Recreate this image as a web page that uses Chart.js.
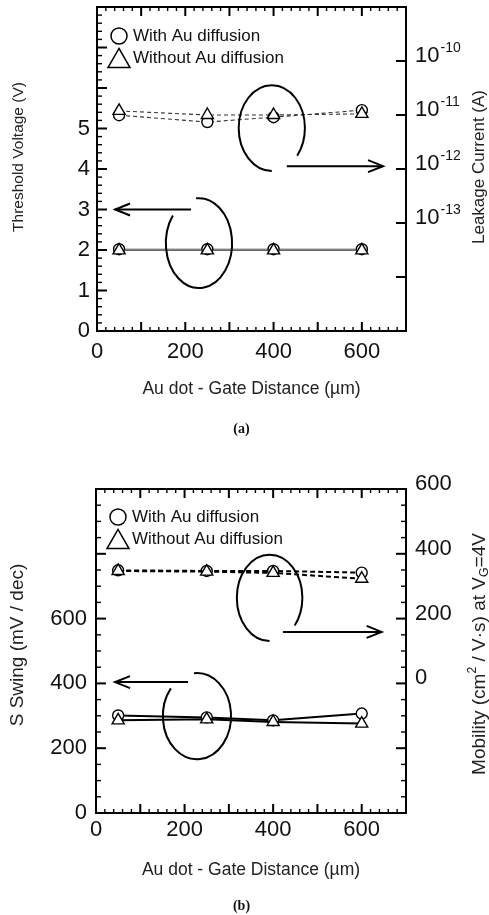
<!DOCTYPE html>
<html><head><meta charset="utf-8">
<script src="https://cdn.jsdelivr.net/npm/chart.js@4/dist/chart.umd.min.js"></script>
<style>
html,body{margin:0;padding:0;background:#fff;width:489px;height:915px;overflow:hidden}
canvas{position:absolute;left:0}
#ca{top:0}
#cb{top:440px}
.cap{position:absolute;font:bold 14px "Liberation Serif","DejaVu Serif",serif;color:#111;width:489px;text-align:center;left:-3px}
</style></head><body>
<canvas id="ca" width="489" height="440"></canvas>
<canvas id="cb" width="489" height="475"></canvas>
<div class="cap" style="top:421px">(a)</div>
<div class="cap" style="top:898px">(b)</div>
<script>
// ---------- data ----------
const distances = [50, 250, 400, 600];
const vthWithAu = [2.02, 2.02, 2.02, 2.02];
const vthWithoutAu = [1.99, 1.99, 1.99, 1.99];
const leakWithAu = [9.9e-12, 7.4e-12, 9.1e-12, 1.23e-11];
const leakWithoutAu = [1.19e-11, 1.0e-11, 1.0e-11, 1.05e-11];
const swingWithAu = [301, 295, 286, 307];
const swingWithoutAu = [286, 289, 281, 276];
const mobilityWithAu = [349, 347, 347, 342];
const mobilityWithoutAu = [347, 345, 341, 323];

const xTickLabels = [0, 200, 400, 600];
const vthTickLabels = [0, 1, 2, 3, 4, 5];
const leakTickExponents = [-10, -11, -12, -13];
const swingTickLabels = [0, 200, 400, 600];
const mobilityTickLabels = [0, 200, 400, 600];
const legendLabels = ['With Au diffusion', 'Without Au diffusion'];

const FONT = '"Liberation Sans", Arial, Helvetica, sans-serif';
Chart.defaults.font.family = FONT;
Chart.defaults.color = '#111';

function pts(ys) { return distances.map((x, i) => ({x: x, y: ys[i]})); }

function ds(data, axis, style, dash, color, width) {
  return {
    data: pts(data), yAxisID: axis, borderColor: color, borderWidth: width,
    borderDash: dash, tension: 0, fill: false,
    order: style === 'circle' ? 2 : 1,
    pointStyle: style, pointRadius: style === 'circle' ? 5.5 : 7,
    pointBackgroundColor: '#fff', pointBorderColor: '#000', pointBorderWidth: 1.4,
    pointHoverRadius: style === 'circle' ? 5.5 : 7
  };
}

function fixSize(prop, val) {
  return s => { s[prop] = val; s.paddingTop = 0; s.paddingBottom = 0; s.paddingLeft = 0; s.paddingRight = 0; };
}

function triPath(ctx, cx, cy, w) {
  const h = w * Math.sqrt(3) / 2;
  ctx.beginPath();
  ctx.moveTo(cx, cy - h / 2);
  ctx.lineTo(cx + w / 2, cy + h / 2);
  ctx.lineTo(cx - w / 2, cy + h / 2);
  ctx.closePath();
}

function vText(ctx, x, y, parts, size) {
  ctx.save();
  ctx.translate(x, y);
  ctx.rotate(-Math.PI / 2);
  ctx.fillStyle = '#222';
  ctx.textBaseline = 'middle';
  ctx.textAlign = 'left';
  let total = 0;
  const meas = parts.map(p => {
    const s = size * (p.scale || 1);
    ctx.font = s + 'px ' + FONT;
    const w = ctx.measureText(p.t).width;
    total += w;
    return {w, s};
  });
  let cx = -total / 2;
  parts.forEach((p, i) => {
    ctx.font = meas[i].s + 'px ' + FONT;
    ctx.fillText(p.t, cx, (p.dy || 0) * size);
    cx += meas[i].w;
  });
  ctx.restore();
}

function makeDecor(o) {
  return {
    id: 'decor',
    afterDatasetsDraw(chart) {
      const ctx = chart.ctx, ca = chart.chartArea;
      const xs = chart.scales.x, ys = chart.scales.y, y2 = chart.scales.y2;
      ctx.save();
      ctx.strokeStyle = '#000';
      ctx.fillStyle = '#000';
      ctx.setLineDash([]);
      const line = (a, b, c, d, w) => { ctx.lineWidth = w; ctx.beginPath(); ctx.moveTo(a, b); ctx.lineTo(c, d); ctx.stroke(); };
      // x ticks (bottom + top, inward)
      for (let i = 0; i * o.xMinor <= o.xMax + 1e-9; i++) {
        const v = i * o.xMinor;
        const major = Math.abs(v / o.xMajor - Math.round(v / o.xMajor)) < 1e-6;
        const p = xs.getPixelForValue(v);
        const L = major ? 9 : 4;
        line(p, ca.bottom, p, ca.bottom - L, major ? 2 : 1.4);
        line(p, ca.top, p, ca.top + L, major ? 2 : 1.4);
      }
      // left ticks
      for (let i = 0; i * o.yMinor <= o.yMax + 1e-9; i++) {
        const v = i * o.yMinor;
        const major = Math.abs(v / o.yMajor - Math.round(v / o.yMajor)) < 1e-6;
        const p = ys.getPixelForValue(v);
        line(ca.left, p, ca.left + (major ? 10 : 5), p, major ? 2 : 1.4);
      }
      // right ticks
      if (o.rightLog) {
        for (let e = o.logMin; e <= o.logMax; e++) {
          const p = y2.getPixelForValue(Math.pow(10, e));
          line(ca.right, p, ca.right - 10, p, 2);
        }
      } else {
        for (let i = 0; o.rMin + i * o.rMinor <= o.rMax + 1e-9; i++) {
          const v = o.rMin + i * o.rMinor;
          const major = Math.abs(v / o.rMajor - Math.round(v / o.rMajor)) < 1e-6;
          const p = y2.getPixelForValue(v);
          line(ca.right, p, ca.right - (major ? 10 : 5), p, major ? 2 : 1.4);
        }
      }
      // frame
      ctx.lineWidth = 2;
      ctx.strokeRect(ca.left, ca.top, ca.right - ca.left, ca.bottom - ca.top);
      // loops (data coordinates on x / left y)
      ctx.lineWidth = 2;
      o.loops.forEach(L => {
        const cx = xs.getPixelForValue(L.cx), cy = ys.getPixelForValue(L.cy);
        const rx = xs.getPixelForValue(L.cx + L.rx) - cx;
        const ry = cy - ys.getPixelForValue(L.cy + L.ry);
        ctx.beginPath();
        ctx.ellipse(cx, cy, rx, ry, 0, L.a0 * Math.PI / 180, L.a1 * Math.PI / 180, L.ccw);
        ctx.stroke();
      });
      // arrows
      o.arrows.forEach(A => {
        const x0 = xs.getPixelForValue(A.x0), x1 = xs.getPixelForValue(A.x1), y = ys.getPixelForValue(A.y);
        const d = Math.sign(x1 - x0);
        line(x0, y, x1, y, 2);
        ctx.lineWidth = 2;
        ctx.beginPath();
        ctx.moveTo(x1 - d * 15, y - 6);
        ctx.lineTo(x1, y);
        ctx.lineTo(x1 - d * 15, y + 6);
        ctx.stroke();
      });
      // legend
      const lx = ca.left + 22, ly1 = ca.top + o.legY1, ly2 = ca.top + o.legY2;
      ctx.lineWidth = 1.5;
      ctx.fillStyle = '#fff';
      ctx.beginPath(); ctx.arc(lx, ly1, 8, 0, Math.PI * 2); ctx.fill(); ctx.stroke();
      triPath(ctx, lx, ly2, 22); ctx.fill(); ctx.stroke();
      ctx.fillStyle = '#111';
      ctx.font = '17px ' + FONT;
      ctx.textBaseline = 'middle';
      ctx.textAlign = 'left';
      ctx.fillText(legendLabels[0], ca.left + 36, ly1);
      ctx.fillText(legendLabels[1], ca.left + 36, ly2);
      // right log labels with superscripts
      if (o.rightLog) {
        leakTickExponents.forEach(e => {
          const p = y2.getPixelForValue(Math.pow(10, e)) - 5;
          ctx.fillStyle = '#111';
          ctx.font = '22px ' + FONT;
          ctx.fillText('10', ca.right + 9, p);
          const w = ctx.measureText('10').width;
          ctx.font = '14px ' + FONT;
          ctx.fillText(String(e), ca.right + 10 + w, p - 8);
        });
      }
      // vertical titles
      o.titles.forEach(t => vText(ctx, t.x, t.y, t.parts, t.size));
      ctx.restore();
    }
  };
}

const noGrid = {display: false, drawTicks: false};
const tickFont = {size: 22, family: FONT};

// ---------- chart (a) ----------
new Chart(document.getElementById('ca'), {
  type: 'line',
  data: {datasets: [
    ds(vthWithAu, 'y', 'circle', [], '#555', 1),
    ds(vthWithoutAu, 'y', 'triangle', [], '#555', 1),
    ds(leakWithAu, 'y2', 'circle', [4, 3], '#333', 1.1),
    ds(leakWithoutAu, 'y2', 'triangle', [4, 3], '#333', 1.1)
  ]},
  options: {
    responsive: false, animation: false, devicePixelRatio: 1,
    layout: {autoPadding: false, padding: {top: 7, left: 0, right: 0, bottom: 0}},
    plugins: {legend: {display: false}, tooltip: {enabled: false}},
    events: [],
    scales: {
      x: {type: 'linear', position: 'bottom', min: 0, max: 700, bounds: 'data',
        grid: noGrid, border: {display: false},
        ticks: {font: tickFont, padding: 7.5, autoSkip: false, maxRotation: 0, color: '#111'},
        afterBuildTicks: s => { s.ticks = xTickLabels.map(v => ({value: v})); },
        afterFit: fixSize('height', 109),
        title: {display: true, text: 'Au dot - Gate Distance (\u00b5m)', font: {size: 17.5, family: FONT}, color: '#222', padding: {top: 0, bottom: 40.5}}
      },
      y: {type: 'linear', position: 'left', min: 0, max: 8, bounds: 'data',
        grid: noGrid, border: {display: false},
        ticks: {font: tickFont, padding: 7, autoSkip: false, color: '#111'},
        afterBuildTicks: s => { s.ticks = vthTickLabels.map(v => ({value: v})); },
        afterFit: fixSize('width', 97)
      },
      y2: {type: 'logarithmic', position: 'right', min: 1e-15, max: 1e-9, bounds: 'data',
        grid: noGrid, border: {display: false},
        ticks: {display: false},
        afterBuildTicks: s => { s.ticks = leakTickExponents.map(e => ({value: Math.pow(10, e)})); },
        afterFit: fixSize('width', 83)
      }
    }
  },
  plugins: [makeDecor({
    xMax: 700, xMinor: 20, xMajor: 100,
    yMax: 8, yMinor: 0.2, yMajor: 1,
    rightLog: true, logMin: -15, logMax: -9,
    loops: [
      {cx: 396, cy: 5.01, rx: 75, ry: 1.06, a0: 90, a1: 400, ccw: false},
      {cx: 231, cy: 2.17, rx: 75, ry: 1.11, a0: 218, a1: -95, ccw: true}
    ],
    arrows: [{x0: 430, x1: 648, y: 4.07}, {x0: 213, x1: 41, y: 3.0}],
    legY1: 29, legY2: 51,
    titles: [
      {x: 19, y: 157, size: 15.5, parts: [{t: 'Threshold Voltage (V)'}]},
      {x: 479, y: 167, size: 17, parts: [{t: 'Leakage Current (A)'}]}
    ]
  })]
});

// ---------- chart (b) ----------
new Chart(document.getElementById('cb'), {
  type: 'line',
  data: {datasets: [
    ds(swingWithAu, 'y', 'circle', [], '#000', 2),
    ds(swingWithoutAu, 'y', 'triangle', [], '#000', 2),
    ds(mobilityWithAu, 'y2', 'circle', [5, 3], '#000', 2),
    ds(mobilityWithoutAu, 'y2', 'triangle', [5, 3], '#000', 2)
  ]},
  options: {
    responsive: false, animation: false, devicePixelRatio: 1,
    layout: {autoPadding: false, padding: {top: 49, left: 0, right: 0, bottom: 0}},
    plugins: {legend: {display: false}, tooltip: {enabled: false}},
    events: [],
    scales: {
      x: {type: 'linear', position: 'bottom', min: 0, max: 700, bounds: 'data',
        grid: noGrid, border: {display: false},
        ticks: {font: tickFont, padding: 4, autoSkip: false, maxRotation: 0, color: '#111'},
        afterBuildTicks: s => { s.ticks = xTickLabels.map(v => ({value: v})); },
        afterFit: fixSize('height', 102),
        title: {display: true, text: 'Au dot - Gate Distance (\u00b5m)', font: {size: 17.5, family: FONT}, color: '#222', padding: {top: 0, bottom: 34.5}}
      },
      y: {type: 'linear', position: 'left', min: 0, max: 1000, bounds: 'data',
        grid: noGrid, border: {display: false},
        ticks: {font: tickFont, padding: 9, autoSkip: false, color: '#111'},
        afterBuildTicks: s => { s.ticks = swingTickLabels.map(v => ({value: v})); },
        afterFit: fixSize('width', 96)
      },
      y2: {type: 'linear', position: 'right', min: -400, max: 600, bounds: 'data',
        grid: noGrid, border: {display: false},
        ticks: {font: tickFont, padding: 9, autoSkip: false, color: '#111', labelOffset: -5},
        afterBuildTicks: s => { s.ticks = mobilityTickLabels.map(v => ({value: v})); },
        afterFit: fixSize('width', 83)
      }
    }
  },
  plugins: [makeDecor({
    xMax: 700, xMinor: 20, xMajor: 100,
    yMax: 1000, yMinor: 50, yMajor: 200,
    rightLog: false, rMin: -400, rMax: 600, rMinor: 50, rMajor: 200,
    loops: [
      {cx: 392, cy: 664, rx: 74, ry: 133, a0: 90, a1: 400, ccw: false},
      {cx: 228, cy: 299, rx: 77, ry: 133, a0: 220, a1: -95, ccw: true}
    ],
    arrows: [{x0: 422, x1: 645, y: 559}, {x0: 208, x1: 43, y: 404}],
    legY1: 28, legY2: 50,
    titles: [
      {x: 18, y: 205, size: 19, parts: [{t: 'S Swing (mV / dec)'}]},
      {x: 480, y: 214, size: 19, parts: [
        {t: 'Mobility (cm'}, {t: '2', scale: 0.65, dy: -0.38}, {t: ' / V\u00b7s) at V'},
        {t: 'G', scale: 0.65, dy: 0.22}, {t: '=4V'}
      ]}
    ]
  })]
});
</script>
</body></html>
